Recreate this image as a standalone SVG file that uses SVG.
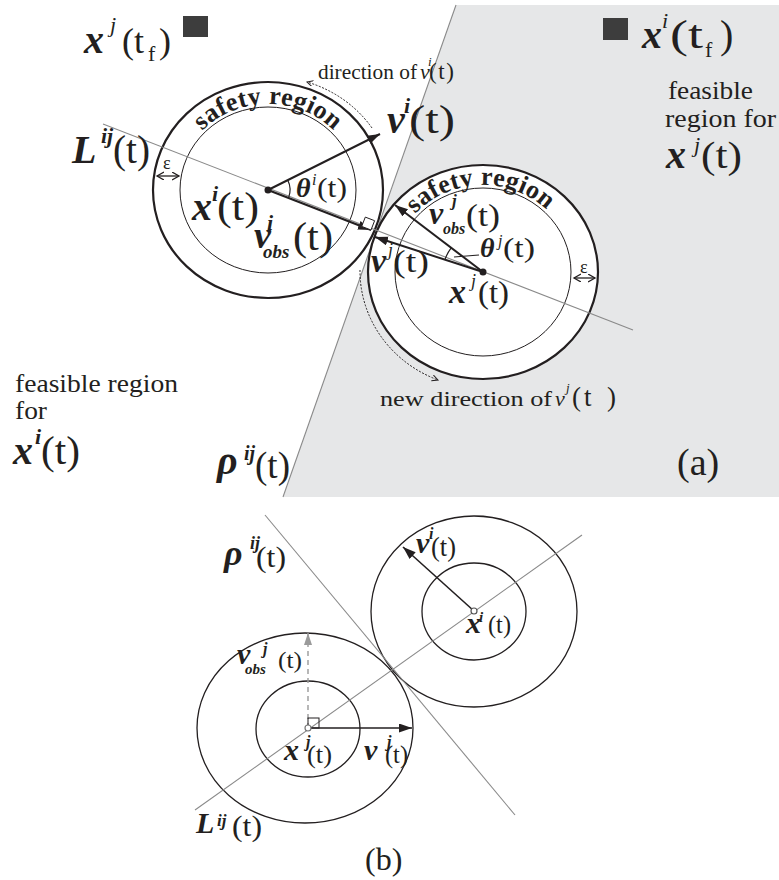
<svg xmlns="http://www.w3.org/2000/svg" width="779" height="880" viewBox="0 0 779 880">
<defs>
<style>
text{font-family:"Liberation Serif","Times New Roman",serif;fill:#231f20}
.bi{font-weight:bold;font-style:italic}
.it{font-style:italic}
.b{font-weight:bold}
.ring{fill:#fff;stroke:#231f20;stroke-width:2.2}
.inner{fill:none;stroke:#231f20;stroke-width:1}
.ringb{fill:none;stroke:#231f20;stroke-width:1.3}
.gl{stroke:#8a8a8a;stroke-width:1.1;fill:none}
.arr{stroke:#231f20;stroke-width:2;fill:none;marker-end:url(#ah)}
.arrb{stroke:#231f20;stroke-width:1.6;fill:none;marker-end:url(#ah)}
.dsh{stroke:#9a9a9a;stroke-width:1.4;stroke-dasharray:5 4;fill:none;marker-end:url(#ahg)}
.dot{stroke:#231f20;stroke-width:1;stroke-dasharray:2 1.5;fill:none;marker-end:url(#oa)}
.eps{stroke:#231f20;stroke-width:1.3;fill:none;marker-start:url(#ea);marker-end:url(#ea)}
.thin{stroke:#231f20;stroke-width:1.2;fill:none}
</style>
<marker id="ah" markerUnits="userSpaceOnUse" markerWidth="14" markerHeight="10" refX="13" refY="4.5" orient="auto"><path d="M0,0 L13,4.5 L0,9 z" fill="#231f20"/></marker>
<marker id="ahg" markerUnits="userSpaceOnUse" markerWidth="14" markerHeight="10" refX="12" refY="4" orient="auto"><path d="M0,0 L12,4 L0,8 z" fill="#9a9a9a"/></marker>
<marker id="oa" markerUnits="userSpaceOnUse" markerWidth="8" markerHeight="8" refX="6" refY="3" orient="auto"><path d="M0,0 L6,3 L0,6" fill="none" stroke="#231f20" stroke-width="1"/></marker>
<marker id="ea" markerUnits="userSpaceOnUse" markerWidth="9" markerHeight="10" refX="7" refY="4" orient="auto-start-reverse"><path d="M0,0 L7,4 L0,8" fill="none" stroke="#231f20" stroke-width="1.3"/></marker>
<path id="spi" d="M177,190 A91 86 0 0 1 359,190"/>
<path id="spj" d="M392,272 A91 87 0 0 1 574,272"/>
</defs>
<rect width="779" height="880" fill="#fff"/>

<!-- panel (a) background -->
<g id="feasible-j-region">
<polygon points="456,5 779,5 779,497 283,497" fill="#e6e7e8"/>
<line class="gl" x1="456" y1="5" x2="283" y2="497"/>
</g>

<g id="goal-j">
<rect x="183" y="16" width="25" height="21" fill="#3d3d3d"/>
<text class="bi" x="84" y="53" font-size="40">x</text>
<text class="it" x="110" y="32" font-size="22">j</text>
<text x="122" y="53" font-size="36">(t</text>
<text x="148" y="61" font-size="22">f</text>
<text x="159" y="53" font-size="36">)</text>
</g>

<g id="goal-i">
<rect x="603" y="18" width="25" height="22" fill="#3d3d3d"/>
<text class="bi" x="642" y="48" font-size="40">x</text>
<text class="it" x="662" y="28" font-size="22">i</text>
<text x="670" y="48" font-size="40" textLength="33" lengthAdjust="spacingAndGlyphs">(t</text>
<text x="705" y="57" font-size="22">f</text>
<text x="720" y="48" font-size="40">)</text>
</g>

<g id="label-feasible-j">
<text x="668" y="99" font-size="26" textLength="85" lengthAdjust="spacingAndGlyphs">feasible</text>
<text x="665" y="127" font-size="26" textLength="111" lengthAdjust="spacingAndGlyphs">region for</text>
<text class="bi" x="666" y="168" font-size="40">x</text>
<text class="it" x="694" y="152" font-size="22">j</text>
<text x="701" y="168" font-size="38" textLength="41" lengthAdjust="spacingAndGlyphs">(t)</text>
</g>

<g id="label-feasible-i">
<text x="15" y="392" font-size="26" textLength="163" lengthAdjust="spacingAndGlyphs">feasible region</text>
<text x="15" y="419" font-size="26" textLength="32" lengthAdjust="spacingAndGlyphs">for</text>
<text class="bi" x="13" y="464" font-size="40">x</text>
<text class="bi" x="35" y="444" font-size="22">i</text>
<text x="41" y="464" font-size="40" textLength="39" lengthAdjust="spacingAndGlyphs">(t)</text>
</g>

<g id="label-rho-a">
<text class="bi" x="217" y="474" font-size="40">ρ</text>
<text class="bi" x="244" y="460" font-size="20">ij</text>
<text x="255" y="478" font-size="38" textLength="35" lengthAdjust="spacingAndGlyphs">(t)</text>
</g>

<text id="label-a" x="677" y="475" font-size="38">(a)</text>

<g id="node-i-a">
<ellipse class="ring" cx="268" cy="190" rx="115" ry="108"/>
<ellipse class="inner" cx="268" cy="190" rx="88" ry="83"/>
<text class="b" font-size="26" letter-spacing="0.3"><textPath href="#spi" startOffset="50%" text-anchor="middle">safety region</textPath></text>
</g>

<g id="node-j-a">
<ellipse class="ring" cx="483" cy="272" rx="115" ry="107"/>
<ellipse class="inner" cx="483" cy="272" rx="88" ry="84"/>
<text class="b" font-size="26" letter-spacing="0.3"><textPath href="#spj" startOffset="49%" text-anchor="middle">safety region</textPath></text>
</g>

<g id="connectors-a">
<line class="gl" x1="103" y1="124" x2="633" y2="330"/>
<line class="arr" x1="268" y1="190" x2="380" y2="134"/>
<line class="arr" x1="268" y1="190" x2="371" y2="230"/>
<line class="arr" x1="483" y1="272" x2="375" y2="237"/>
<line class="arr" x1="483" y1="272" x2="395" y2="205"/>
<polygon points="371,230 361.7,226.4 365.3,217.1 374.6,220.7" fill="#fff" stroke="#231f20" stroke-width="1"/>
<path class="thin" d="M287.7,180.1 A22 22 0 0 1 288.5,198"/>
<path class="thin" d="M445,259.6 A40 40 0 0 1 451.2,247.8"/>
<line class="thin" x1="454" y1="257" x2="479" y2="255"/>
<path class="dot" d="M372,128 A122 115 0 0 0 307,82"/>
<path class="dot" d="M360,270 A123 117 0 0 0 438,380"/>
<line class="eps" x1="157" y1="176" x2="179" y2="176"/>
<line class="eps" x1="574" y1="278" x2="595" y2="278"/>
<circle cx="268" cy="190" r="3.5" fill="#231f20"/>
<circle cx="483" cy="272" r="3.5" fill="#231f20"/>
</g>

<g id="labels-a">
<text x="163" y="169" font-size="18">ε</text>
<text x="580" y="273" font-size="18">ε</text>

<text class="bi" x="72" y="163" font-size="40">L</text>
<text class="bi" x="101" y="143" font-size="22">ij</text>
<text x="113" y="163" font-size="40" textLength="37" lengthAdjust="spacingAndGlyphs">(t)</text>

<text x="318" y="79" font-size="22" textLength="99" lengthAdjust="spacingAndGlyphs">direction of</text>
<text class="it" x="420" y="79" font-size="22">v</text>
<text class="it" x="428" y="66" font-size="13">i</text>
<text x="429" y="79" font-size="23" textLength="25" lengthAdjust="spacing">(t)</text>

<text class="bi" x="387" y="133" font-size="40">v</text>
<text class="bi" x="404" y="113" font-size="22">i</text>
<text x="409" y="133" font-size="40" textLength="46" lengthAdjust="spacingAndGlyphs">(t)</text>

<text class="bi" x="192" y="220" font-size="40">x</text>
<text class="bi" x="212" y="201" font-size="22">i</text>
<text x="217" y="220" font-size="40" textLength="42" lengthAdjust="spacingAndGlyphs">(t)</text>

<text class="bi" x="254" y="248" font-size="38">v</text>
<text class="bi" x="267" y="230" font-size="22">i</text>
<text class="bi" x="263" y="258" font-size="19">obs</text>
<text x="293" y="250" font-size="40" textLength="40" lengthAdjust="spacingAndGlyphs">(t)</text>

<text class="bi" x="296" y="197" font-size="28">θ</text>
<text class="it" x="312" y="185" font-size="16">i</text>
<text x="317" y="197" font-size="28" textLength="30" lengthAdjust="spacingAndGlyphs">(t)</text>

<text class="bi" x="429" y="224" font-size="32">v</text>
<text class="bi" x="452" y="206" font-size="17">j</text>
<text class="bi" x="443" y="234" font-size="16">obs</text>
<text x="466" y="226" font-size="32" textLength="34" lengthAdjust="spacingAndGlyphs">(t)</text>

<text class="bi" x="480" y="257" font-size="28">θ</text>
<text class="it" x="498" y="246" font-size="16">j</text>
<text x="503" y="257" font-size="28" textLength="32" lengthAdjust="spacingAndGlyphs">(t)</text>

<text class="bi" x="371" y="272" font-size="34">v</text>
<text class="it" x="388" y="256" font-size="18">j</text>
<text x="393" y="272" font-size="32" textLength="36" lengthAdjust="spacingAndGlyphs">(t)</text>

<text class="bi" x="449" y="303" font-size="34">x</text>
<text class="it" x="471" y="287" font-size="18">j</text>
<text x="478" y="303" font-size="32" textLength="31" lengthAdjust="spacingAndGlyphs">(t)</text>

<text x="380" y="406" font-size="22" textLength="172" lengthAdjust="spacingAndGlyphs">new direction of</text>
<text class="it" x="555" y="406" font-size="22">v</text>
<text class="it" x="566" y="392" font-size="13">j</text>
<text x="572" y="406" font-size="27">(</text>
<text x="584" y="406" font-size="27">t</text>
<text x="607" y="406" font-size="27">)</text>
</g>

<!-- panel (b) -->
<g id="node-j-b">
<ellipse class="ringb" cx="305" cy="728" rx="108" ry="95"/>
<ellipse class="ringb" cx="308" cy="729" rx="52" ry="48"/>
</g>
<g id="node-i-b">
<ellipse class="ringb" cx="474" cy="611.5" rx="103" ry="95.5"/>
<ellipse class="ringb" cx="474" cy="611.5" rx="52" ry="48.5"/>
</g>

<g id="connectors-b">
<line class="gl" x1="195" y1="810" x2="582" y2="535"/>
<line class="gl" x1="265" y1="515" x2="515" y2="815"/>
<line class="arrb" x1="474" y1="611" x2="403" y2="547"/>
<line class="arrb" x1="308" y1="728" x2="412" y2="728"/>
<line class="dsh" x1="308" y1="728" x2="308" y2="633"/>
<rect x="308" y="718" width="11" height="10" fill="none" stroke="#231f20" stroke-width="1"/>
<circle cx="474" cy="611" r="3" fill="#fff" stroke="#555" stroke-width="1.2"/>
<circle cx="308" cy="728" r="3" fill="#fff" stroke="#777" stroke-width="1.2"/>
</g>

<g id="labels-b">
<text class="bi" x="224" y="565" font-size="36">ρ</text>
<text class="bi" x="250" y="549" font-size="18">ij</text>
<text x="256" y="567" font-size="30" textLength="30" lengthAdjust="spacingAndGlyphs">(t)</text>

<text class="bi" x="416" y="553" font-size="30">v</text>
<text class="bi" x="429" y="539" font-size="16">i</text>
<text x="431" y="556" font-size="28" textLength="25" lengthAdjust="spacingAndGlyphs">(t)</text>

<text class="bi" x="466" y="633" font-size="30">x</text>
<text class="bi" x="479" y="622" font-size="15">i</text>
<text x="488" y="633" font-size="26" textLength="23" lengthAdjust="spacingAndGlyphs">(t)</text>

<text class="bi" x="237" y="664" font-size="30">v</text>
<text class="bi" x="263" y="654" font-size="16">j</text>
<text class="bi" x="245" y="674" font-size="15">obs</text>
<text x="278" y="668" font-size="24" textLength="24" lengthAdjust="spacingAndGlyphs">(t)</text>

<text class="bi" x="284" y="760" font-size="30">x</text>
<text class="bi" x="306" y="747" font-size="16">j</text>
<text x="307" y="763" font-size="26" textLength="25" lengthAdjust="spacingAndGlyphs">(t)</text>

<text class="bi" x="364" y="760" font-size="30">v</text>
<text class="bi" x="387" y="747" font-size="16">j</text>
<text x="385" y="763" font-size="26" textLength="23" lengthAdjust="spacingAndGlyphs">(t)</text>

<text class="bi" x="196" y="833" font-size="30">L</text>
<text class="bi" x="217" y="826" font-size="17">ij</text>
<text x="232" y="836" font-size="30" textLength="30" lengthAdjust="spacingAndGlyphs">(t)</text>

<text x="365" y="870" font-size="32">(b)</text>
</g>
</svg>
